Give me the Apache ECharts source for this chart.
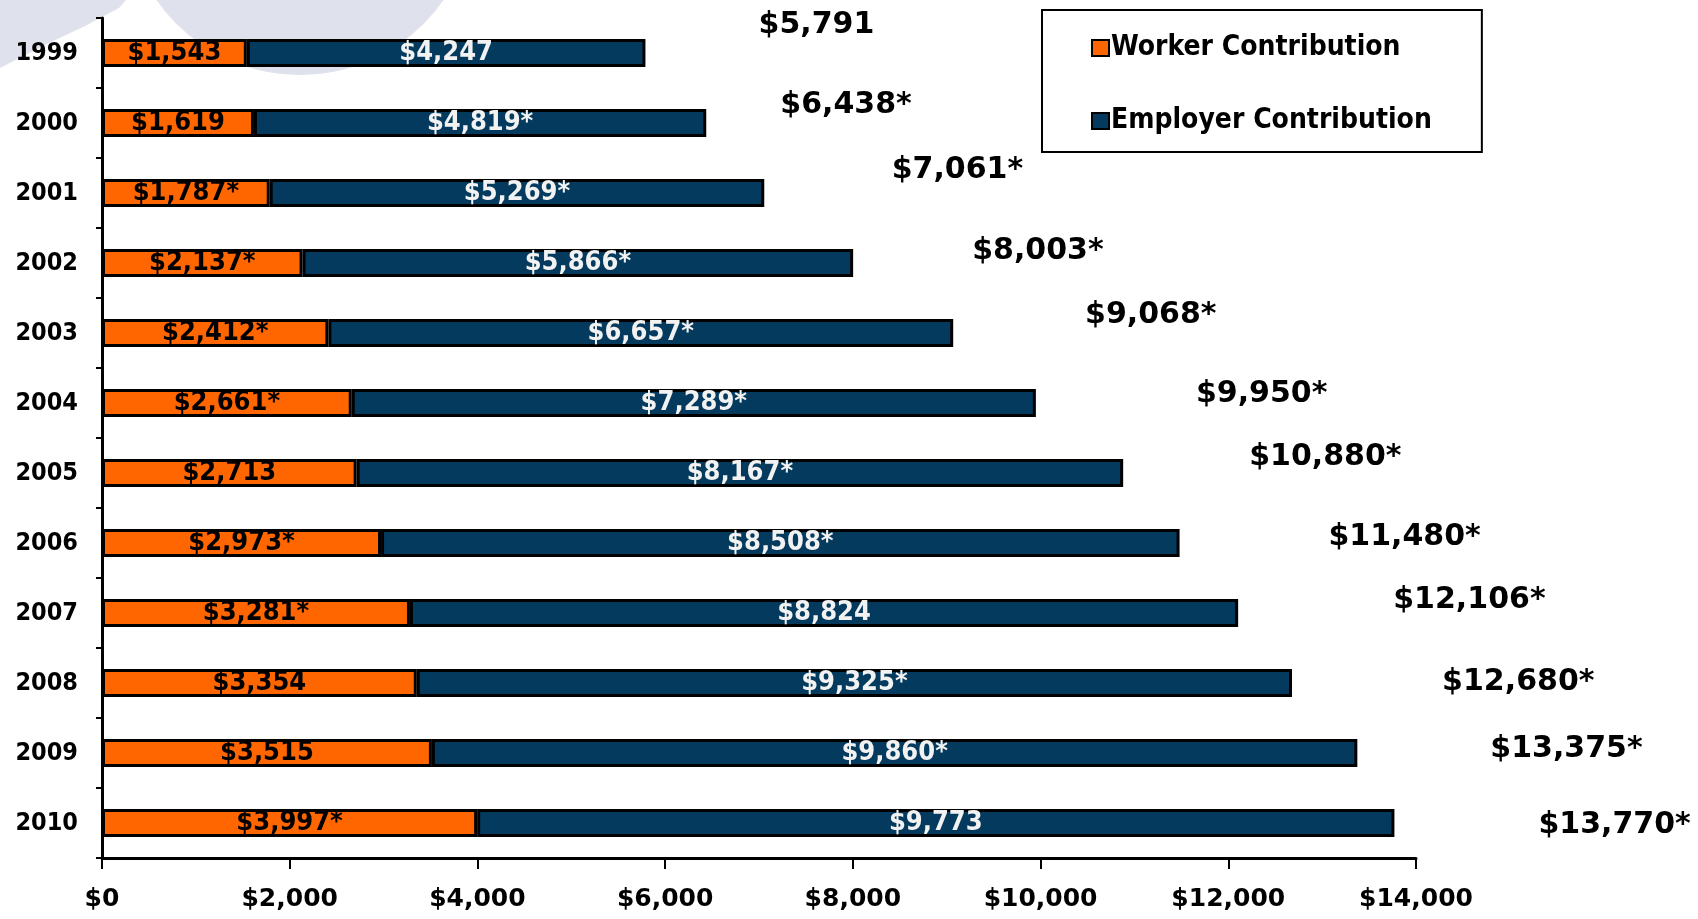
<!DOCTYPE html>
<html>
<head>
<meta charset="utf-8">
<script src="https://cdn.jsdelivr.net/npm/echarts@6/dist/echarts.min.js"></script>
<style>
html,body{margin:0;padding:0;background:#fff;}
#chart{width:1698px;height:919px;}
</style>
</head>
<body>
<div id="chart"></div>
<script>
// ---- data ----
const years = ['1999','2000','2001','2002','2003','2004','2005','2006','2007','2008','2009','2010'];
const workerContribution = [1543,1619,1787,2137,2412,2661,2713,2973,3281,3354,3515,3997];
const employerContribution = [4247,4819,5269,5866,6657,7289,8167,8508,8824,9325,9860,9773];
const totalPremium = [5791,6438,7061,8003,9068,9950,10880,11480,12106,12680,13375,13770];
const workerStar = [0,0,1,1,1,1,0,1,1,0,0,1];
const employerStar = [0,1,1,1,1,1,1,1,0,1,1,0];
const totalStar = [0,1,1,1,1,1,1,1,1,1,1,1];
const xTicks = [0,2000,4000,6000,8000,10000,12000,14000];
const seriesNames = ['Worker Contribution','Employer Contribution'];

// ---- layout (label placement of the total labels, pixels) ----
const totalLabelDx = [113,74,127,119,132,160,126,149,155,150,133,144];
const totalLabelDy = [-28,-18,-23,-12,-18,-9,-16,-6,-13,-1,-4,2];

const COND = '"DejaVu Sans Condensed","Liberation Sans Narrow","DejaVu Sans",sans-serif';
const WIDE = '"DejaVu Sans","Verdana",sans-serif';

function money(v){ return '$' + String(v).replace(/\B(?=(\d{3})+(?!\d))/g, ','); }

const chart = echarts.init(document.getElementById('chart'), null, {renderer:'canvas'});

const option = {
  animation: false,
  backgroundColor: '#ffffff',
  graphic: [
    { type:'circle', z:-10, silent:true, shape:{cx:300, cy:-100, r:175}, style:{fill:'#DFE1ED'} },
    { type:'polygon', z:-10, silent:true, shape:{points:[[0,0],[126,0],[119,8],[85,26],[45,45],[0,68]]}, style:{fill:'#DFE1ED'} }
  ],
  grid: { left:102, right:282, top:18, bottom:61, containLabel:false },
  legend: {
    data: seriesNames,
    orient: 'vertical',
    left: 1042, top: 10,
    padding: [24, 50, 17, 49],
    itemGap: 45,
    itemWidth: 17, itemHeight: 16,
    icon: 'rect',
    borderColor: '#000', borderWidth: 2,
    backgroundColor: '#fff',
    itemStyle: { borderColor:'#000', borderWidth:2 },
    textStyle: { fontFamily: COND, fontWeight:'bold', fontSize:28, color:'#000', lineHeight:28, padding:[0,0,0,-3] },
    selectedMode: false
  },
  xAxis: {
    type: 'value',
    min: 0, max: 14000, interval: 2000,
    axisLine: { show:true, lineStyle:{ color:'#000', width:3 } },
    axisTick: { show:true, length:11, lineStyle:{ color:'#000', width:2 } },
    splitLine: { show:false },
    axisLabel: {
      margin: 29,
      fontFamily: WIDE, fontWeight:'bold', fontSize:25, color:'#000',
      formatter: v => xTicks.indexOf(v) >= 0 ? money(v) : ''
    }
  },
  yAxis: {
    type: 'category',
    data: years,
    inverse: true,
    axisLine: { show:true, lineStyle:{ color:'#000', width:3 } },
    axisTick: { show:true, length:6, lineStyle:{ color:'#000', width:2 } },
    axisLabel: { margin: 24, fontFamily: COND, fontWeight:'bold', fontSize:25, color:'#000' }
  },
  series: [
    {
      name: seriesNames[0], type:'bar', stack:'total', barWidth:28,
      data: workerContribution,
      itemStyle: { color:'#FF6600', borderColor:'#000', borderWidth:3 },
      label: {
        show:true, position:'inside',
        fontFamily: COND, fontWeight:'bold', fontSize:27, color:'#000',
        formatter: p => money(p.value) + (workerStar[p.dataIndex] ? '*' : '')
      }
    },
    {
      name: seriesNames[1], type:'bar', stack:'total', barWidth:28,
      data: employerContribution,
      itemStyle: { color:'#033A5D', borderColor:'#000', borderWidth:3 },
      label: {
        show:true, position:'inside',
        fontFamily: COND, fontWeight:'bold', fontSize:27, color:'#F2F2F2',
        formatter: p => money(p.value) + (employerStar[p.dataIndex] ? '*' : '')
      }
    },
    {
      name: 'Total', type:'scatter', symbolSize:0, silent:true,
      itemStyle: { opacity: 1, color:'#000' },
      data: totalPremium.map((v,i) => ({
        value: [v, years[i]],
        label: { offset: [totalLabelDx[i], totalLabelDy[i]] }
      })),
      label: {
        show:true, position:'right', distance:0, opacity:1,
        fontFamily: WIDE, fontWeight:'bold', fontSize:30, color:'#000',
        textBorderWidth:0,
        formatter: p => money(p.value[0]) + (totalStar[p.dataIndex] ? '*' : '')
      }
    }
  ]
};
chart.setOption(option);
</script>
</body>
</html>
